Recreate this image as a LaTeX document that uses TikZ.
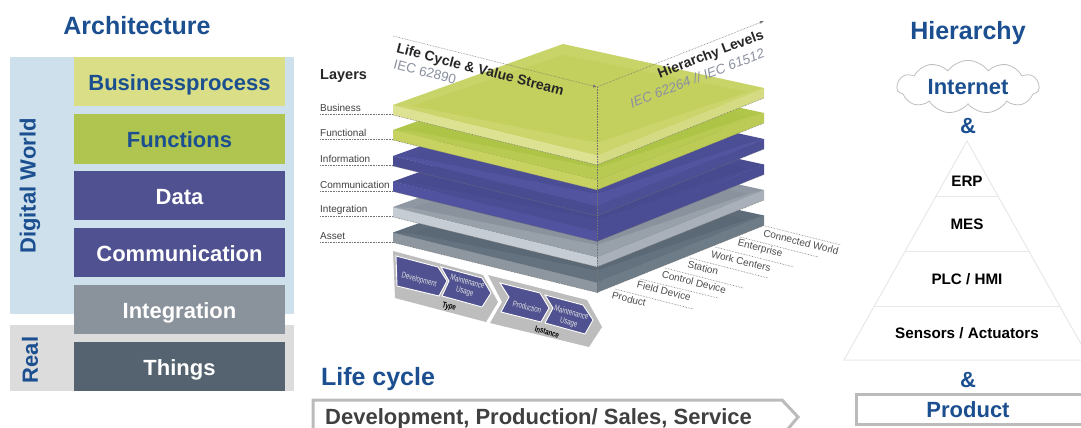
\documentclass[tikz,border=0pt]{standalone}
\usepackage{fontspec}
\setmainfont{Liberation Sans}
\newfontfamily\narrowfont[FakeStretch=0.72]{Liberation Sans}
\usetikzlibrary{shapes.symbols,arrows.meta}
\definecolor{titleblue}{HTML}{1B4F8F}
\definecolor{panelblue}{HTML}{CDE0EC}
\definecolor{panelgrey}{HTML}{DCDCDC}
\definecolor{bizcol}{HTML}{D9DE87}
\definecolor{funcol}{HTML}{B0C450}
\definecolor{datcol}{HTML}{4F5190}
\definecolor{intcol}{HTML}{8A929C}
\definecolor{thicol}{HTML}{54636F}
\definecolor{soft}{HTML}{8B90A0}
\definecolor{pyr}{HTML}{E8E8E8}
\definecolor{edge}{HTML}{BBBBBB}
\tikzset{
    head/.style={font=\bfseries\fontsize{25}{25}\selectfont, text=titleblue},
    big/.style={font=\bfseries\fontsize{22}{22}\selectfont},
    stackbox/.style={big, minimum width=211pt, minimum height=49.5pt, inner sep=0pt,
            text height=17pt, text depth=0pt},
    tier/.style={font=\bfseries\fontsize{15.2}{16}\selectfont, text=black},
    layername/.style={anchor=west, inner sep=0pt, font=\fontsize{10}{10}\selectfont, text=black!75},
    levelname/.style={rotate=-14, inner sep=0pt, font=\fontsize{10}{11}\selectfont, text=black!70},
    tinytext/.style={rotate=-15, inner sep=0pt, align=center, text=white!88!black,
            font=\narrowfont\fontsize{8.5}{10}\selectfont},
    tinybold/.style={rotate=-15, inner sep=0pt, text=black,
            font=\narrowfont\bfseries\fontsize{8.5}{10}\selectfont},
    dots/.style={densely dotted, black!55, line width=.6pt},
    chevron/.style={fill=datcol, draw=white, line width=.9pt},
}
\newcommand{\stacklayer}[6]{
    \begin{scope}[shift={(0,#1)}]
        \definecolor{topc}{HTML}{#2}
        \definecolor{innerc}{HTML}{#3}
        \definecolor{leftc}{HTML}{#4}
        \definecolor{rightc}{HTML}{#5}
        \definecolor{bandc}{HTML}{#6}
        \fill[leftc] (393,105) -- (597,155) -- (597,165) -- (393,115) -- cycle;
        \fill[rightc] (597,155) -- (764,88) -- (764,98) -- (597,165) -- cycle;
        \fill[topc] (393,105) -- (563,44) -- (764,88) -- (597,155) -- cycle;
        \fill[innerc] (412,106) -- (563,55) -- (748,92) -- (597,143) -- cycle;
        \fill[bandc] (393,105) -- (412,106) -- (597,143) -- (748,92) -- (764,88) -- (597,155) -- cycle;
        \draw[dots] (393,115) -- (597,165) -- (764,98);
    \end{scope}
}
\begin{document}
\begin{tikzpicture}[x=1pt, y=-1pt]
    \useasboundingbox (0,0) rectangle (1081,428);
    \clip (0,0) rectangle (1081,428);
    \fill[white] (0,0) rectangle (1081,428);

    \node[head] (arch) at (137,26) {Architecture};
    \fill[panelblue] (10,57) rectangle (294,314);
    \fill[panelgrey] (10,325) rectangle (294,391);
    \node[rotate=90, big, text=titleblue] (digital) at (30,186) {Digital World};
    \node[rotate=90, big, text=titleblue] (real) at (30,360) {Real};
    \foreach \nm/\y/\col/\tcol/\txt in {biz/81.5/bizcol/titleblue/Businessprocess, fun/139/funcol/titleblue/Functions,
            dat/195.5/datcol/white/Data, com/252.5/datcol/white/Communication,
            itg/309.5/intcol/white/Integration, thi/366.5/thicol/white/Things} {
            \node[stackbox, fill=\col, text=\tcol] (\nm) at (179.5,\y) {\txt};
        }

    \stacklayer{127.5}{5D6C78}{5A6975}{8E979F}{6E7C87}{647280}
    \stacklayer{102}{8F98A2}{8A939D}{C5CCD3}{A9B0B9}{98A0AA}
    \stacklayer{76.5}{4A4C92}{484A90}{5153A0}{4A4C94}{4B4D94}
    \stacklayer{51}{4C4E96}{4B4D95}{4A4C92}{4C4E96}{5254A0}
    \stacklayer{25}{B0C64A}{AEC447}{C8D260}{BCCB55}{B9CA52}
    \stacklayer{0}{C8D368}{C4D05E}{DDE292}{D5DB82}{CBD56C}

    \coordinate (lifestart) at (393,36);
    \coordinate (origin) at (597,87);
    \coordinate (stackfoot) at (597,293);
    \coordinate (levelend) at (764,21);
    \draw[dots] (origin) -- (stackfoot);
    \draw[dots, -{Latex[length=4pt]}] (lifestart) -- (origin);
    \draw[dots, -{Latex[length=4pt]}] (origin) -- (levelend);

    \node[font=\bfseries\fontsize{14}{14}\selectfont, text=black!85] (life) at (480,70.5) [rotate=-14.5] {Life Cycle \& Value Stream};
    \node[font=\fontsize{13.5}{14}\selectfont, text=soft] (iecl) at (425,72) [rotate=-14.5] {IEC 62890};
    \node[font=\bfseries\fontsize{14}{14}\selectfont, text=black!85] (hier) at (711,55) [rotate=21] {Hierarchy Levels};
    \node[font=\itshape\fontsize{13.5}{14}\selectfont, text=soft] (iech) at (697,78) [rotate=21] {IEC 62264 // IEC 61512};

    \node[anchor=west, inner sep=0pt, font=\bfseries\fontsize{14.5}{14}\selectfont, text=black!85] (layers) at (320,76) {Layers};
    \foreach \nm/\y/\txt in {lbiz/108/Business, lfun/133/Functional, linf/159/Information,
            lcom/185/Communication, lint/210/Integration, lass/236/Asset} {
            \node[layername] (\nm) at (320,\y) {\txt};
            \coordinate (\nm a) at (320,\y+6);
            \coordinate (\nm b) at (393,\y+6);
            \draw[dots] (\nm a) -- (\nm b);
        }

    \foreach \nm/\x/\y/\sx/\sy/\ex/\ey/\txt in {
            lprod/629/299/615/289/693/309/Product,
            lfield/664/291/640/279/718/298/Field Device,
            lctrl/694/282/665/268/743/288/Control Device,
            lstat/703/268/690/258/768/278/Station,
            lwork/741/261/715/247/794/267/Work Centers,
            lent/760/249/740/237/818/257/Enterprise,
            lconn/801/242/765/226/841/245/Connected World} {
            \node[levelname] (\nm) at (\x,\y) {\txt};
            \coordinate (\nm s) at (\sx,\sy);
            \coordinate (\nm e) at (\ex,\ey);
            \draw[dots] (\nm s) -- (\nm e);
        }

    \fill[black!26!white] (393,251) -- (483,275) -- (498,302) -- (486,322) -- (395,298) -- cycle;
    \fill[black!26!white] (488,275) -- (587,300) -- (602,327) -- (589,347) -- (490,323) -- (502,302) -- cycle;
    \filldraw[chevron] (396,256) -- (438,267) -- (447,281) -- (439,296) -- (397,286) -- cycle;
    \filldraw[chevron] (441,267) -- (482,278) -- (491,293) -- (482,307) -- (442,296) -- (449,281) -- cycle;
    \filldraw[chevron] (500,283) -- (540,293) -- (549,308) -- (541,322) -- (501,312) -- (509,297) -- cycle;
    \filldraw[chevron] (545,295) -- (583,305) -- (593,320) -- (585,334) -- (545,323) -- (553,308) -- cycle;
    \node[tinytext] (dev) at (419,280) {Development};
    \node[tinytext] (maina) at (466,287) {Maintenance\\Usage};
    \node[tinytext] (prod) at (527,307) {Production};
    \node[tinytext] (mainb) at (570,318) {Maintenance\\Usage};
    \node[tinybold] (type) at (449,307) {Type};
    \node[tinybold] (inst) at (547,332) {Instance};

    \node[head] (lifecycle) at (378,379) {Life cycle};
    \draw[edge, line width=3pt, fill=white] (313,436) -- (313,400) -- (782,400) -- (798,417) -- (782,436);
    \node[anchor=west, inner sep=0pt, big, text=black!75] (lifetext) at (325,419) {Development, Production/ Sales, Service};

    \node[head] (hierarchy) at (968,33) {Hierarchy};
    \node[cloud, cloud puffs=11, cloud puff arc=110, aspect=3, draw=black!25, line width=.8pt, inner sep=0pt,
        minimum width=142pt, minimum height=50pt, big, text=titleblue] (internet) at (968,87) {Internet};
    \node[big, text=titleblue] (anda) at (968,126) {\&};
    \draw[pyr, line width=1pt] (967,141) coordinate (apex) -- (844,360) coordinate (baseleft) -- (1090,360) coordinate (baseright) -- cycle;
    \foreach \y in {196,251,306} {
            \draw[pyr, line width=1pt] ({967-(\y-141)*.5616},\y) -- ({967+(\y-141)*.5616},\y);
        }
    \foreach \nm/\y/\txt in {erp/181/ERP, mes/224/MES, plc/279/{PLC / HMI}, sensors/333/{Sensors / Actuators}} {
            \node[tier] (\nm) at (967,\y) {\txt};
        }
    \node[big, text=titleblue] (andb) at (968,380) {\&};
    \node[draw=edge, line width=3pt, minimum width=240pt, minimum height=30pt, inner sep=0pt, anchor=west] (product) at (855,409) {};
    \node[big, text=titleblue] (prodtext) at (968,410) {Product};
\end{tikzpicture}
\end{document}
